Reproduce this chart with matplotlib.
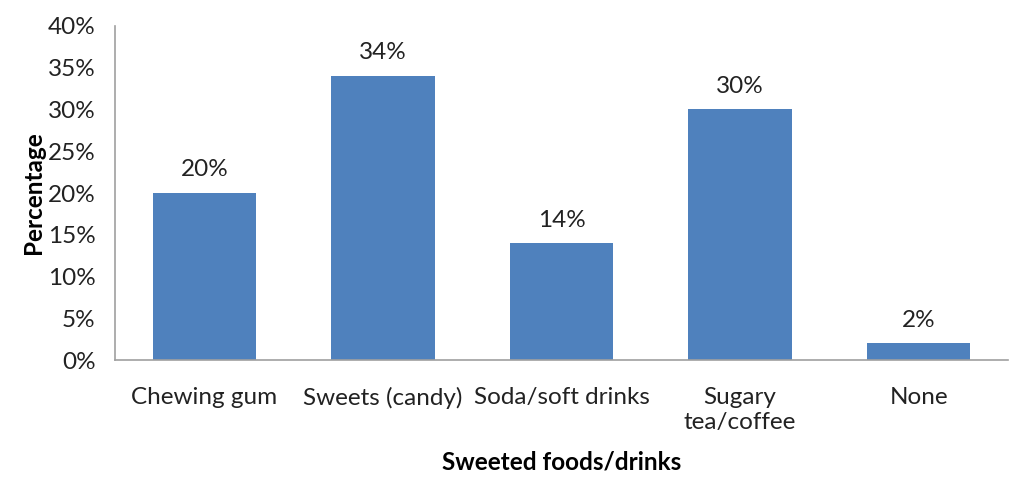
import matplotlib.pyplot as plt
from matplotlib.ticker import PercentFormatter

plt.rcParams['font.family'] = ['Lato', 'DejaVu Sans']

# 단맛 음식/음료 응답 비율
categories = ['Chewing gum', 'Sweets (candy)', 'Soda/soft drinks', 'Sugary\ntea/coffee', 'None']
values = [20, 34, 14, 30, 2]

fig = plt.figure(figsize=(10.09, 4.79), dpi=100)
ax = fig.add_axes([0.114, 0.248, 0.885, 0.698])

x = range(len(categories))
bars = ax.bar(x, values, width=0.58, color='#4F81BD')

# 막대 위 값 표시
for xi, v in zip(x, values):
    ax.text(xi, v + 1.5, f"{v}%", ha='center', va='bottom', fontsize=17.5, color='#222222')

ax.set_xlim(-0.5, len(categories) - 0.5)
ax.set_ylim(0, 40)
ax.set_yticks(range(0, 41, 5))
ax.yaxis.set_major_formatter(PercentFormatter(decimals=0))
ax.set_xticks(list(x))
ax.set_xticklabels(categories, fontsize=17.5, color='#222222', linespacing=1.25)
ax.tick_params(axis='y', labelsize=17.5, labelcolor='#222222', length=0, pad=14)
ax.tick_params(axis='x', length=0, pad=19)

for s in ['top', 'right']:
    ax.spines[s].set_visible(False)
for s in ['left', 'bottom']:
    ax.spines[s].set_color('#A0A0A0')
    ax.spines[s].set_linewidth(1.2)

ax.set_ylabel('Percentage', fontsize=17.5, fontweight='bold', labelpad=2)
ax.set_xlabel('Sweeted foods/drinks', fontsize=17.5, fontweight='bold', labelpad=13)

fig.savefig('out.png', dpi=100)
